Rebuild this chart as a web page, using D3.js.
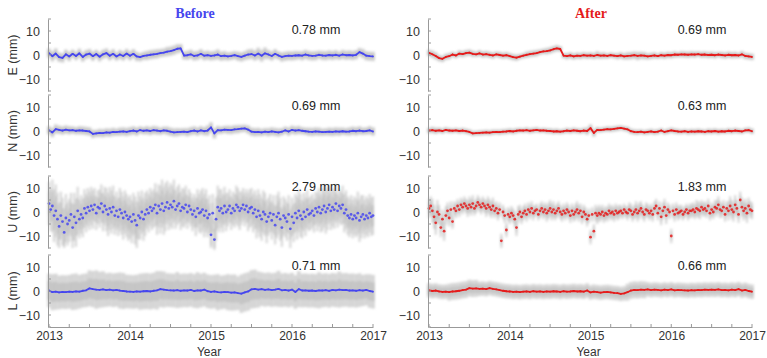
<!DOCTYPE html>
<html>
<head>
<meta charset="utf-8">
<script src="https://cdn.jsdelivr.net/npm/d3@7"></script>
<style>
  body { margin: 0; background: #fff; }
  svg { display: block; font-family: "Liberation Sans", Arial, sans-serif; }
  .tick text { fill: #333; }
</style>
</head>
<body>
<div id="chart"></div>
<script>
const WIDTH = 767;
const HEIGHT = 358;

const YEAR_TICKS = [2013, 2014, 2015, 2016, 2017];
const Y_TICKS = [-10, 0, 10];
const COMPONENTS = ["E", "N", "U", "L"];
const COLUMN_TITLES = ["Before", "After"];
const RMS_BEFORE = ["0.78 mm", "0.69 mm", "2.79 mm", "0.71 mm"];
const RMS_AFTER = ["0.69 mm", "0.63 mm", "1.83 mm", "0.66 mm"];

// half-month samples, 2013.0 .. 2017.0
const eBefore = [
  0.8,-0.5,0.6,-0.9,-1.2,0.3,-0.6,0.5,-0.4,0.7,-0.8,0.2,
  0.6,-0.5,0.4,-0.7,0.3,0.8,-0.3,0.5,-0.6,0.2,-0.4,0.6,
  -0.3,0.5,-0.6,-0.9,-0.4,-0.2,0.1,0.3,0.5,0.8,1.0,1.4,
  1.6,2.0,2.6,2.8,-0.2,-0.1,0.3,-0.4,-0.2,0.5,-0.3,-0.1,
  -0.4,-0.2,0.2,-0.5,-0.3,-0.6,-0.4,-0.1,-0.5,-0.8,-0.3,0.2,
  0.4,-0.2,0.6,-0.3,0.7,0.2,-0.4,0.5,-0.2,-0.8,-0.5,-0.3,
  -0.4,-0.2,-0.1,-0.3,0.2,-0.2,-0.4,-0.3,0.1,-0.2,-0.3,0.0,
  -0.2,0.1,-0.3,0.2,-0.1,0.0,-0.2,0.1,1.2,0.6,-0.3,-0.5,-0.6
];
const nBefore = [
  0.3,-0.6,0.8,0.5,0.2,0.6,0.3,0.4,0.1,0.3,0.2,0.0,
  -0.2,-1.2,-1.0,-0.8,-0.9,-0.6,-0.7,-0.4,-0.5,-0.3,-0.2,-0.4,
  -0.1,0.2,-0.2,0.4,0.1,0.3,0.0,0.4,0.2,-0.1,0.3,0.1,
  -0.3,-0.6,-0.5,-0.4,-0.3,-0.5,-0.1,0.2,-0.2,0.3,-0.1,0.2,
  1.5,-1.0,0.4,0.3,0.6,0.5,0.4,0.7,0.8,1.0,1.1,0.6,
  -0.3,-0.5,-0.4,-0.6,-0.3,-0.5,-0.2,-0.4,-0.6,-0.3,0.3,-0.2,
  0.5,0.2,0.4,0.1,-0.1,-0.3,-0.4,-0.2,-0.3,-0.5,-0.4,-0.3,
  -0.4,-0.2,-0.3,-0.1,-0.3,-0.2,0.1,-0.1,0.2,-0.1,0.0,0.3,-0.2
];
const lBefore = [
  0.2,-0.5,-0.3,-0.6,-0.4,-0.5,-0.3,-0.4,-0.2,-0.3,0.1,0.3,
  1.1,0.8,0.6,0.5,0.7,0.4,0.6,0.3,0.5,0.2,0.0,-0.2,
  -0.3,-0.4,-0.2,-0.3,-0.1,0.0,-0.2,0.1,0.3,0.8,0.6,0.4,
  0.3,0.2,0.4,0.1,0.3,0.2,0.5,0.0,0.3,0.2,0.6,-0.1,
  -0.4,-0.2,-0.5,-0.6,-0.4,-0.5,-0.7,-0.6,-0.9,-1.1,-0.6,-0.2,
  0.7,0.9,0.6,0.8,0.5,0.7,0.4,0.6,0.9,0.3,0.5,0.2,
  0.6,-0.4,0.8,0.2,0.3,0.1,0.2,0.0,0.3,0.2,0.4,0.1,
  0.5,0.3,0.6,0.4,0.5,0.2,0.3,0.1,0.4,0.2,0.5,0.0,-0.3
];
const eAfter = [
  0.9,0.3,-0.4,-1.3,-1.6,-0.8,-0.5,0.2,-0.2,0.6,0.4,0.8,
  1.0,0.5,0.3,0.7,0.2,0.4,0.1,-0.2,0.3,0.0,-0.3,-0.1,
  -0.5,-0.9,-1.1,-0.7,-0.3,0.1,0.4,0.6,0.8,1.2,1.5,1.6,
  1.9,2.4,2.8,2.5,-0.3,-0.5,-0.2,-0.6,-0.3,-0.4,-0.1,-0.3,
  -0.2,-0.4,0.0,-0.3,-0.2,-0.4,-0.1,-0.3,-0.5,-0.2,-0.6,-0.4,
  -0.3,-0.1,-0.4,-0.2,-0.3,-0.6,-0.4,-0.2,-0.5,-0.1,-0.3,0.0,
  -0.1,0.2,0.1,0.3,0.2,0.1,0.3,0.2,0.4,0.1,0.2,0.0,
  0.1,-0.1,0.2,0.0,-0.2,0.1,-0.1,0.0,-0.2,0.3,-0.4,-0.6,-0.8
];
const nAfter = [
  0.2,0.4,0.1,0.3,0.0,0.5,0.2,0.1,0.3,0.0,0.2,-0.1,
  -0.4,-1.0,-0.9,-0.8,-0.7,-0.6,-0.7,-0.5,-0.4,-0.5,-0.3,-0.2,
  0.0,-0.2,0.1,0.3,0.2,0.4,0.1,0.3,0.5,0.2,0.3,0.1,
  0.0,-0.2,-0.1,-0.3,-0.1,0.2,0.0,0.3,0.1,-0.1,0.2,0.0,
  1.2,-0.8,0.5,0.4,0.6,0.8,0.7,0.9,1.1,1.3,1.0,0.7,
  -0.1,-0.4,-0.5,-0.3,-0.6,-0.4,-0.2,-0.5,-0.3,0.2,-0.4,-0.1,
  0.3,0.0,-0.2,-0.3,-0.1,-0.4,-0.2,-0.3,-0.1,-0.2,-0.4,-0.1,
  -0.2,0.0,-0.3,-0.1,-0.2,0.1,-0.1,0.2,0.0,-0.2,0.3,0.4,-0.1
];
const lAfter = [
  0.3,0.0,0.2,-0.2,-0.4,-0.3,-0.5,-0.2,-0.1,0.1,0.4,0.6,
  1.2,1.0,1.1,0.9,1.0,0.8,1.2,0.9,0.7,0.4,0.1,-0.1,
  -0.2,-0.4,-0.3,-0.5,-0.3,-0.2,-0.4,-0.1,-0.3,-0.2,-0.4,-0.2,
  -0.3,-0.1,-0.2,-0.4,-0.1,-0.3,-0.2,0.0,-0.2,-0.1,-0.3,0.2,
  -0.6,-0.3,-0.5,-0.7,-0.5,-0.4,-0.6,-0.8,-0.9,-1.2,-1.0,-0.5,
  0.2,0.5,0.4,0.6,0.5,0.7,0.4,0.6,0.5,0.3,0.6,0.4,
  0.7,0.3,0.5,0.4,0.3,0.2,0.4,0.3,0.5,0.4,0.6,0.5,
  0.6,0.5,0.7,0.4,0.5,0.3,0.6,0.4,0.8,0.2,0.5,0.0,-0.3
];

// weekly-ish samples for the up component, 2013.0 .. 2017.0
const uBefore = [
  3.5,1.0,2.5,-1.5,0.5,-3.0,-6.0,-1.5,-4.0,-8.5,-2.5,-5.0,
  -3.5,-1.0,-6.5,-2.0,-4.5,0.5,-3.0,-1.0,-2.5,1.5,-0.5,2.0,
  0.5,2.5,1.0,3.0,-0.5,2.0,1.5,3.5,0.0,2.5,1.0,-1.0,
  1.5,0.0,2.0,-1.5,0.5,-2.0,1.0,-0.5,-2.5,0.0,-1.5,-3.0,
  -2.0,-4.0,-1.0,-3.5,-5.5,-1.5,-2.5,0.0,-3.0,-1.0,1.0,-0.5,
  2.0,0.5,1.5,3.0,-0.5,2.5,1.0,3.5,0.5,2.0,4.0,1.5,
  3.0,2.0,4.5,1.0,2.5,3.5,0.5,2.0,1.5,3.0,0.0,2.5,
  1.0,-1.0,0.5,-2.0,1.5,-0.5,0.0,1.0,-1.5,0.5,-2.5,-1.0,
  -9.5,-0.5,-11.5,-3.0,2.0,0.5,1.5,-0.5,2.5,0.0,1.0,2.5,
  -0.5,1.5,0.5,3.0,2.0,0.5,1.5,3.0,1.0,2.5,0.0,1.5,
  2.0,-0.5,1.0,-2.0,0.5,-1.5,-3.0,0.0,-1.0,-4.0,-2.0,-0.5,
  -3.5,-1.0,-5.5,-2.0,-0.5,-3.0,-6.5,-1.5,-2.5,-4.0,-1.0,-7.0,
  -2.0,-4.5,-0.5,-2.5,0.5,-1.5,-3.0,0.0,-2.0,1.0,-1.0,-0.5,
  0.5,-1.5,1.5,0.0,2.0,-0.5,1.0,2.5,0.0,1.5,3.0,0.5,
  2.0,1.0,3.5,0.5,2.5,1.5,3.0,-0.5,1.0,-1.5,-2.5,-1.0,
  -3.0,-1.5,-2.5,-0.5,-3.5,-2.0,-1.0,-3.0,-1.5,-2.5,-0.5,-2.0,
  -1.5
];
const uAfter = [
  1.5,2.5,0.5,-2.0,-4.5,0.0,-1.0,-6.5,-3.0,-8.0,-1.5,0.5,
  -2.5,1.0,-4.0,1.5,0.5,2.5,1.0,3.0,2.0,3.5,2.5,1.5,
  3.0,2.0,3.5,1.5,2.5,4.0,3.0,2.0,3.5,2.5,1.5,3.0,
  2.0,1.0,2.5,0.5,1.5,-0.5,1.0,-12.0,0.0,-1.5,-7.5,-1.0,
  -2.0,-0.5,-1.5,-3.0,-6.5,-1.0,0.0,-2.0,-0.5,0.5,-1.0,1.0,
  0.0,1.5,-0.5,0.5,1.0,-1.0,0.5,1.5,0.0,1.0,-0.5,0.5,
  1.5,0.0,1.0,-0.5,0.5,1.5,0.0,-1.0,0.5,-0.5,1.0,0.0,
  -1.5,0.5,-1.0,0.0,1.0,-0.5,0.5,-2.0,0.0,-1.0,-3.0,-1.5,
  -10.5,-1.0,-8.0,-0.5,-1.5,-0.5,-1.0,0.0,-1.5,-0.5,-1.0,0.5,
  -0.5,0.0,-1.0,0.5,-0.5,0.0,0.5,-0.5,1.0,0.0,-0.5,1.0,
  0.5,-1.0,0.0,1.0,-0.5,0.5,1.5,0.0,-1.0,1.0,0.5,-0.5,
  0.5,-1.0,1.5,2.5,-0.5,1.5,-2.0,0.5,2.0,-1.5,1.0,0.0,
  -10.0,0.5,-1.0,1.0,-0.5,0.0,0.5,-1.0,0.0,1.0,-0.5,0.5,
  0.5,1.0,0.0,1.5,1.0,0.5,2.0,1.0,1.5,0.5,2.5,-0.5,
  1.0,0.0,2.0,1.5,3.0,1.0,0.5,2.0,-1.0,1.5,0.5,2.5,
  1.0,0.0,3.0,1.5,-1.0,5.0,2.0,0.5,1.5,-0.5,2.5,1.0,
  0.5
];

// monthly formal error (half-width of the grey bars), 2013.0 .. 2017.0
const eBeforeErr = [2,2.2,2,2,1.8,2,2,1.8,2,2,1.8,2, 2,2,1.8,2,2,1.8,2,2,1.8,2,2,2, 2,2.2,2,1.8,2,2,2.2,2.5,2.5,2,1.8,2, 2,1.8,2,2,1.8,2,2,1.8,2,2,1.8,2, 2];
const nBeforeErr = [1.8,2,1.8,1.8,1.6,1.8,1.8,1.6,1.8,1.8,1.6,1.8, 1.8,1.8,1.6,1.8,1.8,1.6,1.8,1.8,1.6,1.8,1.8,1.8, 2.2,1.8,1.6,1.8,1.8,1.6,1.8,1.8,1.6,1.8,1.8,1.6, 1.8,1.8,1.6,1.8,1.8,1.6,1.8,1.8,1.6,1.8,1.8,1.6, 1.8];
const uBeforeErr = [9,11,10,9,10,8,8,7,8,9,8,9, 9,10,9,8,9,10,9,8,8,7,8,9, 8,9,8,7,8,7,8,9,9,8,9,8, 8,9,8,7,8,9,8,7,8,8,9,8, 8];
const lBeforeErr = [7,7.5,7,7,7.5,7,7.5,8,7.5,7,7,7.5, 7,7,7.5,7.5,8,7.5,7,7.5,7,7,7.5,7, 7,7.5,7,7.5,7,8,8,7.5,7,7,7.5,7, 7,7.5,7,7,7.5,7,7,7.5,7,7,7,6.5, 7];
const eAfterErr = [1.4,1.6,1.4,1.4,1.2,1.4,1.4,1.2,1.4,1.4,1.2,1.4, 1.4,1.4,1.2,1.4,1.4,1.2,1.4,1.4,1.2,1.4,1.4,1.4, 1.4,1.6,1.4,1.2,1.4,1.4,1.6,1.8,1.6,1.4,1.2,1.4, 1.4,1.2,1.4,1.4,1.2,1.4,1.4,1.2,1.4,1.4,1.2,1.4, 1.4];
const nAfterErr = [1.2,1.4,1.2,1.2,1.1,1.2,1.2,1.1,1.2,1.2,1.1,1.2, 1.2,1.2,1.1,1.2,1.2,1.1,1.2,1.2,1.1,1.2,1.2,1.2, 1.6,1.2,1.1,1.2,1.2,1.1,1.2,1.2,1.1,1.2,1.2,1.1, 1.2,1.2,1.1,1.2,1.2,1.1,1.2,1.2,1.1,1.2,1.2,1.1, 1.2];
const uAfterErr = [4,5,4,3.5,3,3,3.5,3,3,3.5,3,3, 3,3.5,3,3,2.5,3,3.5,3,3,3,3.5,3, 3,3.5,3,3,3,2.5,3,3.5,3,3,3,3.5, 3,3,2.5,3,3.5,3,3,3.5,3,4,3.5,4, 3.5];
const lAfterErr = [3,3,3,3.5,3.5,3.5,3.5,3.5,3,3,3,3, 3,3,3,3,3,3,3,3,3,3,3,3, 3,3,3,3,3,3,3.5,3.5,3.5,3,3,3, 3,3,3,3,3,3,3,3,3,3,3,3, 3];

const columns = [
  {
    title: COLUMN_TITLES[0], color: "#4646ee", x0: 49, x1: 373, titleX: 195, rmsX: 316,
    series: [eBefore, nBefore, uBefore, lBefore],
    errors: [eBeforeErr, nBeforeErr, uBeforeErr, lBeforeErr],
    rms: RMS_BEFORE, ylabels: true
  },
  {
    title: COLUMN_TITLES[1], color: "#e51b1b", x0: 429, x1: 752, titleX: 591, rmsX: 702,
    series: [eAfter, nAfter, uAfter, lAfter],
    errors: [eAfterErr, nAfterErr, uAfterErr, lAfterErr],
    rms: RMS_AFTER, ylabels: false
  }
];

const PANEL_TOPS = [19, 95, 176, 255];
const PANEL_H = 72;

const svg = d3.select("#chart").append("svg")
  .attr("width", WIDTH).attr("height", HEIGHT);

svg.append("defs").append("filter")
  .attr("id", "soft")
  .attr("x", "-10%").attr("y", "-20%").attr("width", "120%").attr("height", "140%")
  .append("feGaussianBlur").attr("stdDeviation", 1.1);

columns.forEach((col) => {
  const x = d3.scaleLinear().domain([2013, 2017]).range([col.x0, col.x1]);

  svg.append("text")
    .attr("x", col.titleX).attr("y", 18)
    .attr("text-anchor", "middle")
    .attr("font-family", "'Liberation Serif', 'Times New Roman', serif")
    .attr("font-weight", "bold")
    .attr("font-size", 14)
    .attr("fill", col.color)
    .text(col.title);

  COMPONENTS.forEach((comp, k) => {
    const top = PANEL_TOPS[k];
    const y = d3.scaleLinear().domain([-15, 15]).range([top + PANEL_H, top]);
    const values = col.series[k];
    const errs = col.errors[k];
    const n = values.length;
    const t = d3.scaleLinear().domain([0, n - 1]).range([2013, 2017]);
    const pts = values.map((v, i) => {
      const year = t(i);
      const s = errs[Math.round((year - 2013) * 12)];
      return { year, v, s };
    });
    const barW = (col.x1 - col.x0) / (n - 1) + 0.4;
    const g = svg.append("g");

    // grey error bars, softened
    const band = g.append("g").attr("filter", "url(#soft)");
    band.append("g").attr("opacity", 0.75)
      .selectAll("line").data(pts).join("line")
      .attr("x1", (d) => x(d.year)).attr("x2", (d) => x(d.year))
      .attr("y1", (d) => y(Math.max(-15, d.v - d.s)))
      .attr("y2", (d) => y(Math.min(15, d.v + d.s)))
      .attr("stroke", "#c9c9c9").attr("stroke-width", barW);
    band.append("g").attr("opacity", 0.5)
      .selectAll("line").data(pts).join("line")
      .attr("x1", (d) => x(d.year)).attr("x2", (d) => x(d.year))
      .attr("y1", (d) => y(d.v - d.s * 0.55))
      .attr("y2", (d) => y(d.v + d.s * 0.55))
      .attr("stroke", "#b5b5b5").attr("stroke-width", barW);

    if (comp !== "U") {
      g.append("path").datum(pts)
        .attr("d", d3.line().x((d) => x(d.year)).y((d) => y(d.v)))
        .attr("fill", "none")
        .attr("stroke", col.color)
        .attr("stroke-width", 1.8)
        .attr("stroke-linejoin", "round");
    }
    g.append("g").selectAll("circle").data(pts).join("circle")
      .attr("cx", (d) => x(d.year)).attr("cy", (d) => y(d.v))
      .attr("r", comp === "U" ? 1.4 : 0.9)
      .attr("fill", col.color)
      .attr("fill-opacity", comp === "U" ? 0.85 : 1);

    // y axis
    const yAxis = g.append("g")
      .attr("transform", `translate(${col.x0 - 1},0)`)
      .call(d3.axisLeft(y).tickValues(Y_TICKS).tickSize(0).tickPadding(8));
    yAxis.select(".domain").attr("stroke", "#999");
    yAxis.selectAll(".tick text").attr("font-size", 12.5);
    yAxis.append("g").selectAll("line").data([-15, -10, -5, 0, 5, 10, 15]).join("line")
      .attr("x1", 0).attr("x2", 3)
      .attr("y1", (d) => y(d)).attr("y2", (d) => y(d))
      .attr("stroke", "#999");

    if (col.ylabels) {
      svg.append("text")
        .attr("transform", `translate(17,${y(0)}) rotate(-90)`)
        .attr("text-anchor", "middle")
        .attr("font-size", 12.5)
        .attr("fill", "#333")
        .text(`${comp} (mm)`);
    }

    svg.append("text")
      .attr("x", col.rmsX).attr("y", top + 15)
      .attr("text-anchor", "middle")
      .attr("font-size", 12.5)
      .attr("fill", "#222")
      .text(col.rms[k]);

    if (k === COMPONENTS.length - 1) {
      const xAxis = svg.append("g")
        .attr("transform", `translate(0,${top + PANEL_H})`)
        .call(d3.axisBottom(x).tickValues(YEAR_TICKS).tickFormat(d3.format("d"))
          .tickSize(0).tickPadding(4));
      xAxis.select(".domain").attr("stroke", "#999");
      xAxis.selectAll(".tick text").attr("font-size", 12);
      xAxis.append("g").selectAll("line").data(d3.range(2013, 2017.01, 0.25)).join("line")
        .attr("x1", (d) => x(d)).attr("x2", (d) => x(d))
        .attr("y1", 0).attr("y2", -3)
        .attr("stroke", "#999");
      svg.append("text")
        .attr("x", (col.x0 + col.x1) / 2 - 2).attr("y", 356)
        .attr("text-anchor", "middle")
        .attr("font-size", 12)
        .attr("fill", "#333")
        .text("Year");
    }
  });
});
</script>
</body>
</html>
